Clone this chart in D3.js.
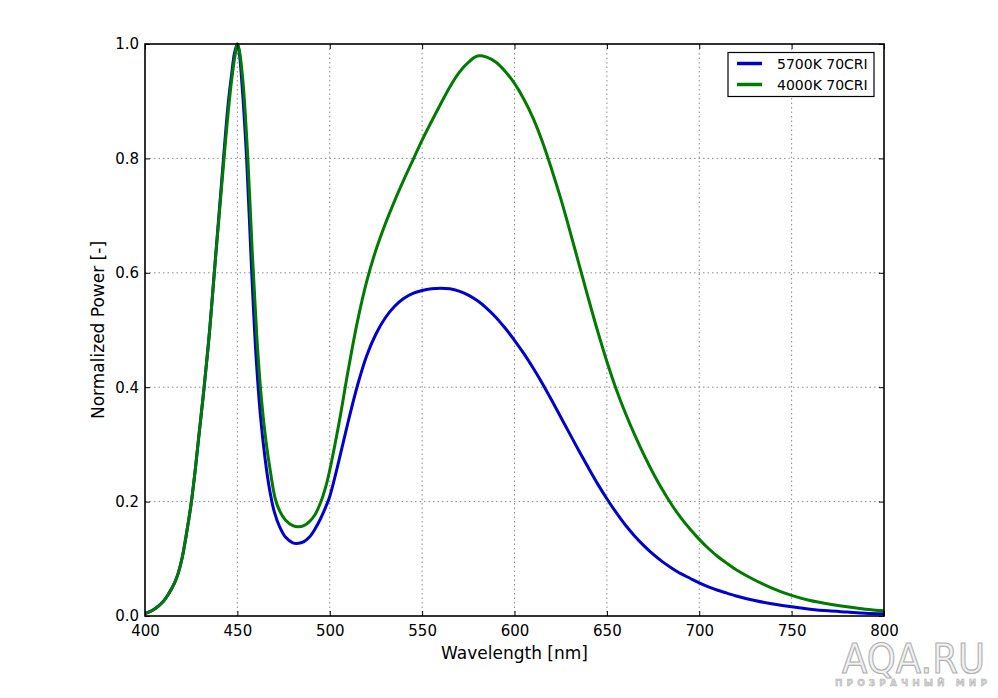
<!DOCTYPE html>
<html><head><meta charset="utf-8">
<script src="https://cdn.jsdelivr.net/npm/d3@7/dist/d3.min.js"></script>
<style>html,body{margin:0;padding:0;background:#fff;}svg{display:block;font-family:"DejaVu Sans",sans-serif;}</style>
</head><body>
<svg id="c" width="998" height="698"></svg>
<script>
const seriesNames = ["5700K 70CRI", "4000K 70CRI"];
const seriesColors = ["#0000cc", "#007a00"];
const xTicks = [400, 450, 500, 550, 600, 650, 700, 750, 800];
const yTicks = [0.0, 0.2, 0.4, 0.6, 0.8, 1.0];

const blueWl = [400,405,410,413,416,418,420,422.5,425,427,429,432,435,437.5,440,442.5,445,447,448.5,450,451,452.5,455,457.5,460,462.5,465,467.5,470,473,476,480,483,486,489,492,495,498,500,505,510,515,520,525,530,535,540,545,550,555,560,565,570,575,580,585,590,595,600,605,610,615,620,625,630,635,640,645,650,655,660,665,670,675,680,685,690,695,700,705,710,715,720,730,740,750,760,770,780,790,800];
const blueVal = [0.004,0.012,0.026,0.04,0.058,0.075,0.10,0.145,0.197,0.25,0.31,0.40,0.50,0.60,0.70,0.80,0.895,0.95,0.985,1.0,0.985,0.93,0.80,0.62,0.46,0.35,0.275,0.22,0.182,0.155,0.138,0.128,0.127,0.13,0.138,0.152,0.17,0.192,0.209,0.272,0.34,0.403,0.455,0.493,0.521,0.541,0.555,0.564,0.569,0.572,0.573,0.572,0.568,0.561,0.551,0.538,0.522,0.503,0.482,0.459,0.434,0.407,0.378,0.348,0.318,0.288,0.259,0.231,0.205,0.181,0.159,0.14,0.123,0.108,0.095,0.084,0.074,0.066,0.058,0.051,0.045,0.04,0.035,0.027,0.021,0.016,0.012,0.009,0.007,0.005,0.004];

const greenWl = [400,405,410,413,416,418,420,422.5,425,427,429,432,435,437.5,440,442.5,445,447,449,450,451,453,455.5,458,460.5,463,465.5,468,470.5,473,476,480,483,486,489,492,495,498,500,505,510,515,520,525,530,535,540,545,550,555,560,565,570,575,580,585,590,595,600,605,610,615,620,625,630,635,640,645,650,655,660,665,670,675,680,685,690,695,700,705,710,715,720,730,740,750,760,770,780,790,800];
const greenVal = [0.004,0.012,0.026,0.04,0.058,0.075,0.10,0.145,0.197,0.25,0.31,0.40,0.50,0.60,0.695,0.79,0.88,0.94,0.985,1.0,0.99,0.935,0.81,0.64,0.49,0.38,0.305,0.25,0.205,0.183,0.168,0.158,0.156,0.158,0.165,0.177,0.198,0.228,0.255,0.337,0.43,0.515,0.585,0.64,0.685,0.725,0.762,0.797,0.832,0.864,0.895,0.925,0.95,0.968,0.979,0.977,0.968,0.952,0.931,0.904,0.871,0.83,0.782,0.73,0.673,0.614,0.555,0.498,0.445,0.397,0.355,0.317,0.282,0.25,0.221,0.195,0.172,0.152,0.134,0.118,0.104,0.092,0.081,0.063,0.048,0.036,0.027,0.021,0.016,0.012,0.009];

const svg = d3.select("#c");
const L = 145, R = 884, T = 44, B = 616;
const x = d3.scaleLinear().domain([400, 800]).range([L, R]);
const y = d3.scaleLinear().domain([0, 1]).range([B, T]);

// grid
const g = svg.append("g");
g.selectAll(".vg").data(xTicks.slice(1, -1)).enter().append("line")
  .attr("x1", d => x(d)).attr("x2", d => x(d)).attr("y1", T).attr("y2", B)
  .attr("stroke", "#8a8a8a").attr("stroke-width", 1).attr("stroke-dasharray", "1.5,3");
g.selectAll(".hg").data(yTicks.slice(1, -1)).enter().append("line")
  .attr("y1", d => y(d)).attr("y2", d => y(d)).attr("x1", L).attr("x2", R)
  .attr("stroke", "#8a8a8a").attr("stroke-width", 1).attr("stroke-dasharray", "1.5,3");

// curves
const line = d3.line().x(d => x(d[0])).y(d => y(d[1])).curve(d3.curveCatmullRom.alpha(0.5));
const data = [blueWl.map((w, i) => [w, blueVal[i]]), greenWl.map((w, i) => [w, greenVal[i]])];
svg.append("defs").append("clipPath").attr("id", "cp").append("rect")
  .attr("x", L).attr("y", T - 2).attr("width", R - L).attr("height", B - T + 2);
const cg = svg.append("g").attr("clip-path", "url(#cp)");
data.forEach((d, i) => {
  cg.append("path").datum(d).attr("d", line).attr("fill", "none")
    .attr("stroke", seriesColors[i]).attr("stroke-width", 3).attr("stroke-linejoin", "round");
});

// axes (ticks inside)
const xb = svg.append("g").attr("transform", `translate(0,${B})`)
  .call(d3.axisBottom(x).tickValues(xTicks).tickSize(-5).tickPadding(9).tickFormat(d3.format("d")));
const xt = svg.append("g").attr("transform", `translate(0,${T})`)
  .call(d3.axisTop(x).tickValues(xTicks).tickSize(-5).tickFormat(""));
const yl = svg.append("g").attr("transform", `translate(${L},0)`)
  .call(d3.axisLeft(y).tickValues(yTicks).tickSize(-5).tickPadding(6).tickFormat(d3.format(".1f")));
const yr = svg.append("g").attr("transform", `translate(${R},0)`)
  .call(d3.axisRight(y).tickValues(yTicks).tickSize(-5).tickFormat(""));
[xb, xt, yl, yr].forEach(a => {
  a.select(".domain").remove();
  a.selectAll(".tick line").attr("stroke", "#000").attr("stroke-width", 1);
  a.selectAll(".tick text").attr("font-family", "DejaVu Sans").attr("font-size", 15).attr("fill", "#000");
});
svg.append("rect").attr("x", L).attr("y", T).attr("width", R - L).attr("height", B - T)
  .attr("fill", "none").attr("stroke", "#000").attr("stroke-width", 1.6);

// axis labels
svg.append("text").attr("x", (L + R) / 2).attr("y", 659).attr("text-anchor", "middle")
  .attr("font-size", 17).text("Wavelength [nm]");
svg.append("text").attr("transform", `translate(104,${(T + B) / 2}) rotate(-90)`)
  .attr("text-anchor", "middle").attr("font-size", 17).text("Normalized Power [-]");

// legend
const lg = svg.append("g");
lg.append("rect").attr("x", 728).attr("y", 52.5).attr("width", 146).attr("height", 44)
  .attr("fill", "#fff").attr("stroke", "#000").attr("stroke-width", 1.2);
seriesNames.forEach((n, i) => {
  const yy = 63.5 + i * 21;
  lg.append("line").attr("x1", 737).attr("x2", 762).attr("y1", yy).attr("y2", yy)
    .attr("stroke", seriesColors[i]).attr("stroke-width", 3.5);
  lg.append("text").attr("x", 777).attr("y", yy + 5.5).attr("font-size", 14).text(n);
});

// watermark
svg.append("text").attr("x", 842).attr("y", 673).attr("font-size", 41)
  .attr("textLength", 143).attr("lengthAdjust", "spacingAndGlyphs")
  .attr("fill", "#f2f2f2").attr("stroke", "#b0b0b0").attr("stroke-width", 1.2).text("AQA.RU");
svg.append("text").attr("x", 835).attr("y", 686).attr("font-size", 9).attr("font-weight", "bold")
  .attr("textLength", 152).attr("lengthAdjust", "spacing")
  .attr("fill", "#d5d5d5").attr("stroke", "#a8a8a8").attr("stroke-width", 0.4).text("ПРОЗРАЧНЫЙ МИР");
</script>
</body></html>
